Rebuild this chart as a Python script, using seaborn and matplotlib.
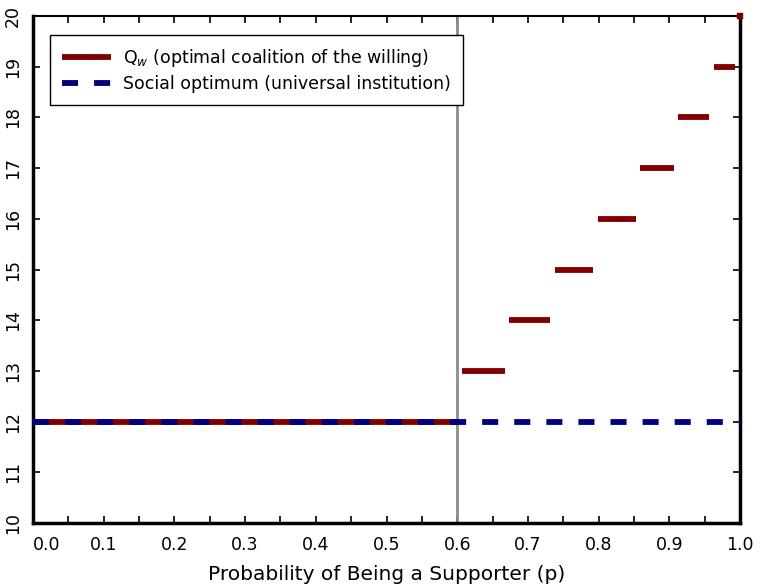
import numpy as np
import pandas as pd
import seaborn as sns
import matplotlib.pyplot as plt
from matplotlib.transforms import ScaledTranslation

# step levels of the optimal coalition of the willing
seg_start = [0.0, 0.607, 0.673, 0.738, 0.799, 0.859, 0.912, 0.963]
seg_end = [0.600, 0.668, 0.731, 0.792, 0.853, 0.907, 0.956, 0.993]
seg_level = [12, 13, 14, 15, 16, 17, 18, 19]
end_point_x = [1.0]
end_point_y = [20]

# social optimum (flat)
social_x = [0.0, 1.0]
social_y = [12, 12]

threshold_p = 0.6

red = '#800000'
blue = '#000080'

sns.set_style("ticks")
plt.rcParams['font.family'] = ['DejaVu Sans']
plt.rcParams['text.color'] = 'black'
plt.rcParams['axes.labelcolor'] = 'black'

fig = plt.figure(figsize=(7.61, 5.87), dpi=100)
ax = fig.add_axes([0.0434, 0.109, 0.929, 0.8637])

ax.axvline(threshold_p, color='#8c8c8c', lw=2, zorder=1)

# red steps
for i in range(len(seg_level)):
    seg = pd.DataFrame({'p': [seg_start[i], seg_end[i]], 'q': [seg_level[i], seg_level[i]]})
    sns.lineplot(data=seg, x='p', y='q', color=red, lw=4.2, ax=ax, zorder=2,
                 solid_capstyle='butt', label='Q$_w$ (optimal coalition of the willing)' if i == 0 else None)
sns.scatterplot(x=end_point_x, y=end_point_y, color=red, marker='s', s=14, ax=ax,
                edgecolor=red, zorder=6, clip_on=False)

# blue dashed social optimum
soc = pd.DataFrame({'p': social_x, 'q': social_y})
sns.lineplot(data=soc, x='p', y='q', color=blue, lw=4.2, ax=ax, zorder=3,
             label='Social optimum (universal institution)')
ax.lines[-1].set_dashes([2.75, 2.75])
ax.lines[-1].set_dash_capstyle('butt')

ax.set_xlim(0, 1)
ax.set_ylim(10, 20)
ax.set_xticks(np.arange(0, 1.01, 0.1))
ax.set_xticks(np.arange(0, 1.01, 0.05), minor=True)
ax.set_xticklabels(['%.1f' % v for v in np.arange(0, 1.01, 0.1)])
ax.set_yticks(range(10, 21))
ax.tick_params(axis='both', which='both', direction='in', top=True, right=True,
               length=5, width=1.2, labelsize=12.5, colors='black')
ax.tick_params(axis='x', which='minor', length=5)
ax.tick_params(axis='x', pad=9)
ax.tick_params(axis='y', pad=8)
for lab in ax.get_yticklabels():
    lab.set_rotation(90)
    lab.set_va('center')
# nudge the 0.0 label off the corner
ax.get_xticklabels()[0].set_transform(ax.get_xticklabels()[0].get_transform() + ScaledTranslation(0.14, 0, fig.dpi_scale_trans))

ax.set_xlabel('Probability of Being a Supporter (p)', fontsize=14.5, labelpad=8)
ax.set_ylabel('')

for side in ['left', 'bottom', 'right']:
    ax.spines[side].set_linewidth(2.5)
ax.spines['top'].set_linewidth(1.5)
for s in ax.spines.values():
    s.set_color('black')

leg = ax.legend(loc='upper left', bbox_to_anchor=(0.024, 0.9625), borderaxespad=0,
                fontsize=12.5, frameon=True, fancybox=False, edgecolor='black', framealpha=1,
                handlelength=2.8, handletextpad=0.7, borderpad=0.7, labelspacing=0.35)
leg.get_frame().set_linewidth(1)

fig.savefig('out.png', dpi=100)
